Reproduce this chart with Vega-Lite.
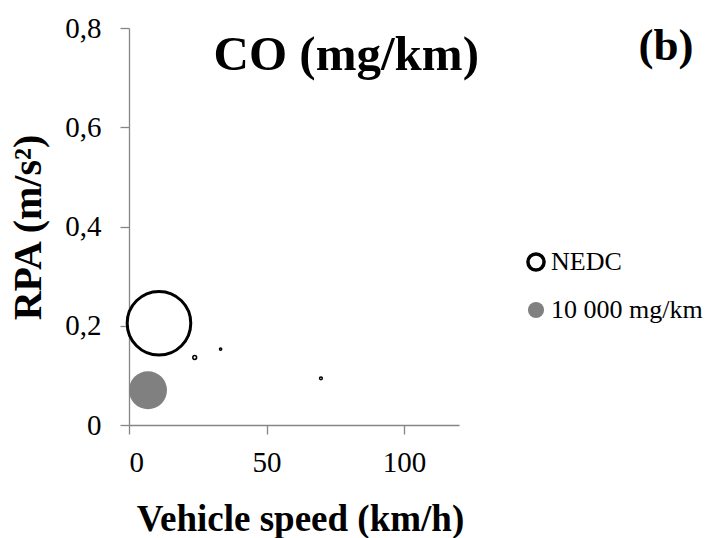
{
  "$schema": "https://vega.github.io/schema/vega-lite/v6.json",
  "width": 330,
  "height": 397,
  "autosize": {"type": "none"},
  "padding": {"left": 129, "top": 28, "right": 250, "bottom": 113},
  "background": "white",
  "config": {
    "view": {"stroke": null},
    "axis": {
      "grid": false,
      "domainColor": "#868686",
      "domainWidth": 1.3,
      "tickColor": "#868686",
      "tickWidth": 1.3,
      "tickSize": 9,
      "labelFont": "Liberation Serif",
      "labelFontSize": 29,
      "labelColor": "black",
      "titleFont": "Liberation Serif",
      "titleFontWeight": "bold",
      "titleColor": "black"
    }
  },
  "data": {
    "values": [
      {"speed": 10.9, "rpa": 0.205, "co": 28000, "series": "NEDC"},
      {"speed": 23.9, "rpa": 0.136, "co": 100, "series": "NEDC"},
      {"speed": 33.3, "rpa": 0.153, "co": 35, "series": "NEDC"},
      {"speed": 69.8, "rpa": 0.094, "co": 55, "series": "NEDC"},
      {"speed": 6.9, "rpa": 0.070, "co": 10000, "series": "10 000 mg/km"}
    ]
  },
  "layer": [
    {
      "mark": {"type": "point", "shape": "circle", "filled": false, "opacity": 1},
      "encoding": {
        "x": {
          "field": "speed",
          "type": "quantitative",
          "scale": {"domain": [0, 120], "nice": false},
          "axis": {
            "values": [0, 50, 100],
            "labelPadding": 14,
            "title": "Vehicle speed (km/h)",
            "titleFontSize": 37,
            "titleX": 171,
            "titleY": 105,
            "titleAlign": "center",
            "titleBaseline": "alphabetic"
          }
        },
        "y": {
          "field": "rpa",
          "type": "quantitative",
          "scale": {"domain": [0, 0.8], "nice": false},
          "axis": {
            "values": [0, 0.2, 0.4, 0.6, 0.8],
            "labelExpr": "datum.value == 0 ? '0' : replace(format(datum.value, '.1f'), '.', ',')",
            "labelPadding": 19,
            "title": "RPA (m/s²)",
            "titleFontSize": 40,
            "titleX": -89,
            "titleY": 199,
            "titleAngle": -90,
            "titleAlign": "center",
            "titleBaseline": "alphabetic"
          }
        },
        "size": {
          "field": "co",
          "type": "quantitative",
          "scale": {"type": "linear", "domain": [0, 10000], "range": [0, 1444], "zero": true},
          "legend": null
        },
        "fill": {
          "field": "series",
          "type": "nominal",
          "scale": {"domain": ["NEDC", "10 000 mg/km"], "range": ["white", "#808080"]},
          "legend": {
            "title": null,
            "orient": "none",
            "legendX": 394,
            "legendY": 221,
            "symbolType": "circle",
            "symbolSize": 260,
            "symbolStrokeWidth": 3.5,
            "labelFont": "Liberation Serif",
            "labelFontSize": 26,
            "labelColor": "black",
            "labelOffset": 2,
            "rowPadding": 16
          }
        },
        "stroke": {
          "field": "series",
          "type": "nominal",
          "scale": {"domain": ["NEDC", "10 000 mg/km"], "range": ["black", "transparent"]}
        },
        "strokeWidth": {
          "condition": {"test": "datum.co > 1000", "value": 3},
          "value": 1.5
        }
      }
    },
    {
      "data": {
        "values": [
          {"label": "CO (mg/km)", "px": 79, "py": 0.716, "kind": "title"},
          {"label": "(b)", "px": 195.3, "py": 0.735, "kind": "tag"}
        ]
      },
      "mark": {
        "type": "text",
        "font": "Liberation Serif",
        "fontWeight": "bold",
        "align": "center",
        "baseline": "alphabetic",
        "color": "black"
      },
      "encoding": {
        "x": {"field": "px", "type": "quantitative"},
        "y": {"field": "py", "type": "quantitative"},
        "text": {"field": "label"},
        "size": {
          "condition": {"test": "datum.kind == 'title'", "value": 49},
          "value": 45
        }
      }
    }
  ]
}
